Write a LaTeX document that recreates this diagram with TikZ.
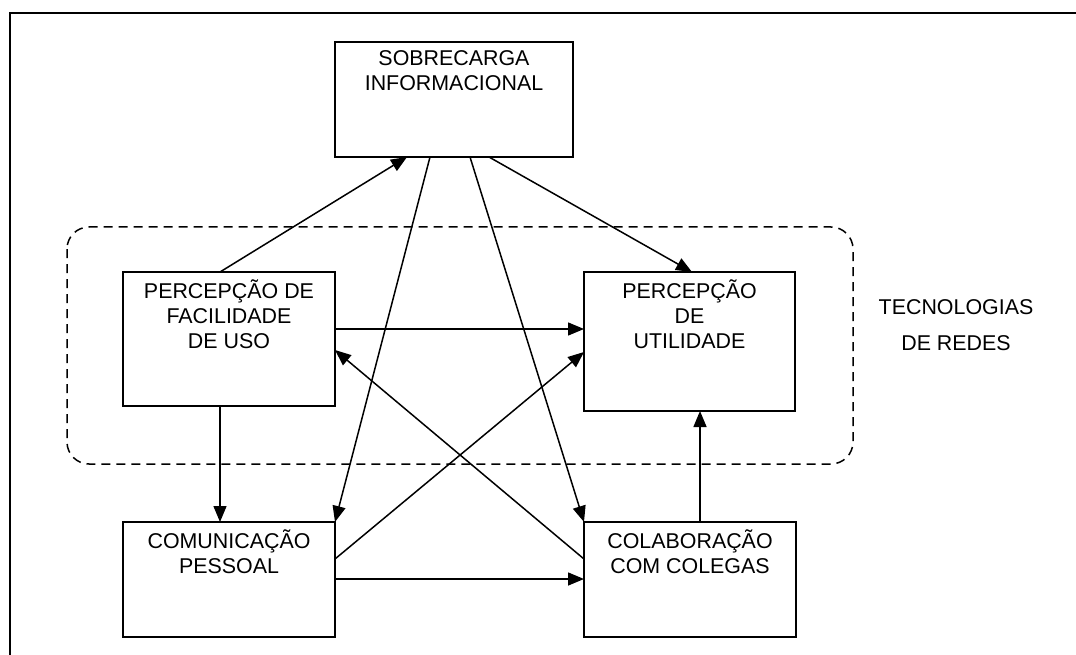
\documentclass[tikz,border=0pt]{standalone}
\usepackage{fontspec}
\setmainfont{Liberation Sans}
\usetikzlibrary{arrows.meta,calc}

\tikzset{
  box/.style={draw, line width=1.8pt, rectangle, inner sep=0pt, outer sep=0pt},
  boxtext/.style={anchor=north, align=center, inner sep=0pt,
    font=\fontsize{21.4}{25}\selectfont,
    execute at begin node={\rule{0pt}{22pt}}},
  arr/.style={line width=1.5pt, -{Triangle[length=16pt,width=13pt]}},
  group/.style={draw, line width=1.5pt, dash pattern=on 9pt off 6pt, rounded corners=22pt}
}

\begin{document}
\begin{tikzpicture}[x=1pt,y=-1pt]
  \useasboundingbox (0,0) rectangle (1076,655);
  \clip (0,0) rectangle (1076,655);

  % outer frame
  \draw[line width=2pt] (9.5,700) -- (9.5,13.5) -- (1100,13.5);

  % group boundary around the perception constructs
  \draw[group] (67,227) rectangle (853,464);
  \node[boxtext, font=\fontsize{21.4}{36}\selectfont] (tec) at (956,299) {TECNOLOGIAS\\DE REDES};

  % construct boxes
  \node[box, minimum width=238pt, minimum height=115pt] (sob) at (454,99.5) {};
  \node[box, minimum width=212pt, minimum height=134pt] (fac) at (229,339) {};
  \node[box, minimum width=211pt, minimum height=139pt] (uti) at (689.5,341.5) {};
  \node[box, minimum width=212pt, minimum height=115pt] (com) at (229,579.5) {};
  \node[box, minimum width=212pt, minimum height=115pt] (col) at (690,579.5) {};

  % box labels
  \node[boxtext] (sobt) at ([yshift=-8pt]sob.north) {SOBRECARGA\\INFORMACIONAL};
  \node[boxtext] (fact) at ([yshift=-8pt]fac.north) {PERCEPÇÃO DE\\FACILIDADE\\DE USO};
  \node[boxtext] (utit) at ([yshift=-8pt]uti.north) {PERCEPÇÃO\\DE\\UTILIDADE};
  \node[boxtext] (comt) at ([yshift=-8pt]com.north) {COMUNICAÇÃO\\PESSOAL};
  \node[boxtext] (colt) at ([yshift=-8pt]col.north) {COLABORAÇÃO\\COM COLEGAS};

  % connectors
  \draw[arr] (fac.north -| 220,0) -- (sob.south -| 407,0);
  \draw[arr] (sob.south -| 430,0) -- (com.north east);
  \draw[arr] (sob.south -| 470,0) -- (col.north west);
  \draw[arr] (sob.south -| 489,0) -- (uti.north -| 692,0);
  \draw[arr] (fac.east |- 0,329) -- (uti.west |- 0,329);
  \draw[arr] (col.west |- 0,559) -- (fac.east |- 0,350);
  \draw[arr] (com.east |- 0,559) -- (uti.west |- 0,352);
  \draw[arr] (com.east |- 0,579) -- (col.west |- 0,579);
  \draw[arr] (fac.south -| 220,0) -- (com.north -| 220,0);
  \draw[arr] (col.north -| 700,0) -- (uti.south -| 700,0);
\end{tikzpicture}
\end{document}
